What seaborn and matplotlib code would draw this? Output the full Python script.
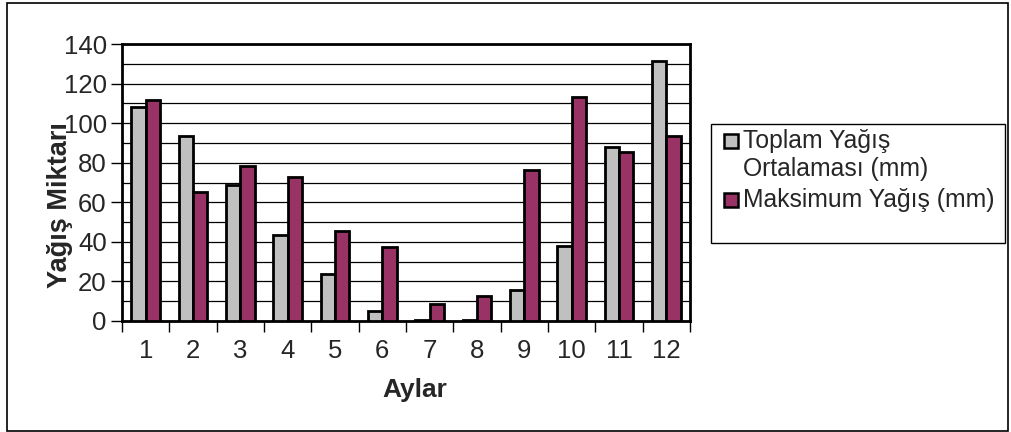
import matplotlib
matplotlib.use("Agg")
import numpy as np
import pandas as pd
import seaborn as sns
import matplotlib.pyplot as plt
from matplotlib.patches import Rectangle
from matplotlib.ticker import MultipleLocator, FixedLocator

# monthly rainfall values
aylar = [str(m) for m in range(1, 13)]
toplam_ortalama = [108.3, 93.6, 68.6, 43.5, 23.6, 5.0, 0.5, 0.5, 15.7, 37.9, 87.9, 131.5]
maksimum = [111.6, 65.0, 78.4, 72.7, 45.4, 37.4, 8.5, 12.6, 76.5, 113.4, 85.5, 93.4]

seri_adlari = ["Toplam Yağış\nOrtalaması (mm)", "Maksimum Yağış (mm)"]
renkler = ["#C0C0C0", "#993366"]

df = pd.DataFrame({
    "Ay": aylar * 2,
    "Deger": toplam_ortalama + maksimum,
    "Seri": [seri_adlari[0]] * 12 + [seri_adlari[1]] * 12,
})

sns.set_style("white")
plt.rcParams['font.family'] = ['Liberation Sans', 'DejaVu Sans']

fig = plt.figure(figsize=(10.11, 4.32), dpi=100)
ax = fig.add_axes([0.1207, 0.257, 0.5618, 0.641])

sns.barplot(data=df, x="Ay", y="Deger", hue="Seri", hue_order=seri_adlari,
            palette=renkler, width=0.6, edgecolor="black", linewidth=2,
            saturation=1, ax=ax, legend=False, zorder=3)

ax.set_ylim(0, 140)
ax.set_xlim(-0.5, 11.5)
ax.yaxis.set_major_locator(MultipleLocator(20))
ax.yaxis.set_minor_locator(MultipleLocator(10))
ax.grid(which="both", axis="y", color="black", linewidth=0.9, zorder=0)
ax.set_axisbelow(True)

# ticks between categories on x
ax.xaxis.set_minor_locator(FixedLocator(np.arange(-0.5, 12, 1)))
ax.tick_params(axis="x", which="major", length=0, labelsize=18.5, pad=13)
ax.tick_params(axis="x", which="minor", length=8, width=1, color="black", direction="out")
ax.tick_params(axis="y", which="major", length=8, width=1, color="black", direction="out",
               labelsize=18.5, pad=3)
ax.tick_params(axis="y", which="minor", length=0)
ax.tick_params(bottom=True, left=True, which="both")

for s in ax.spines.values():
    s.set_visible(True)
    s.set_color("black")
    s.set_linewidth(2)

ax.set_xlabel("Aylar", fontsize=19, fontweight="bold")
ax.set_ylabel("Yağış Miktarı", fontsize=19.5, fontweight="bold")
ax.xaxis.set_label_coords(0.516, -0.205)
ax.yaxis.set_label_coords(-0.087, 0.42)

# legend box drawn like the spreadsheet one
fig.add_artist(Rectangle((711 / 1011, 1 - 243 / 432), (1005 - 711) / 1011, (243 - 124) / 432,
                         transform=fig.transFigure, facecolor="white", edgecolor="black",
                         linewidth=1))
for i, (etiket, renk, yy) in enumerate(zip(seri_adlari, renkler, [141, 200])):
    fig.add_artist(Rectangle((724 / 1011, 1 - (yy + 7) / 432), 14 / 1011, 14 / 432,
                             transform=fig.transFigure, facecolor=renk,
                             edgecolor="black", linewidth=1.8))
    fig.text(743 / 1011, 1 - (yy - 12) / 432, etiket, fontsize=17.8, va="top",
             ha="left", linespacing=1.2)

# outer frame of the chart area
fig.add_artist(Rectangle((7 / 1011, 1 / 432), 1001 / 1011, 428 / 432,
                         transform=fig.transFigure, fill=False, edgecolor="black",
                         linewidth=1.2))

fig.savefig("out.png", dpi=100)
